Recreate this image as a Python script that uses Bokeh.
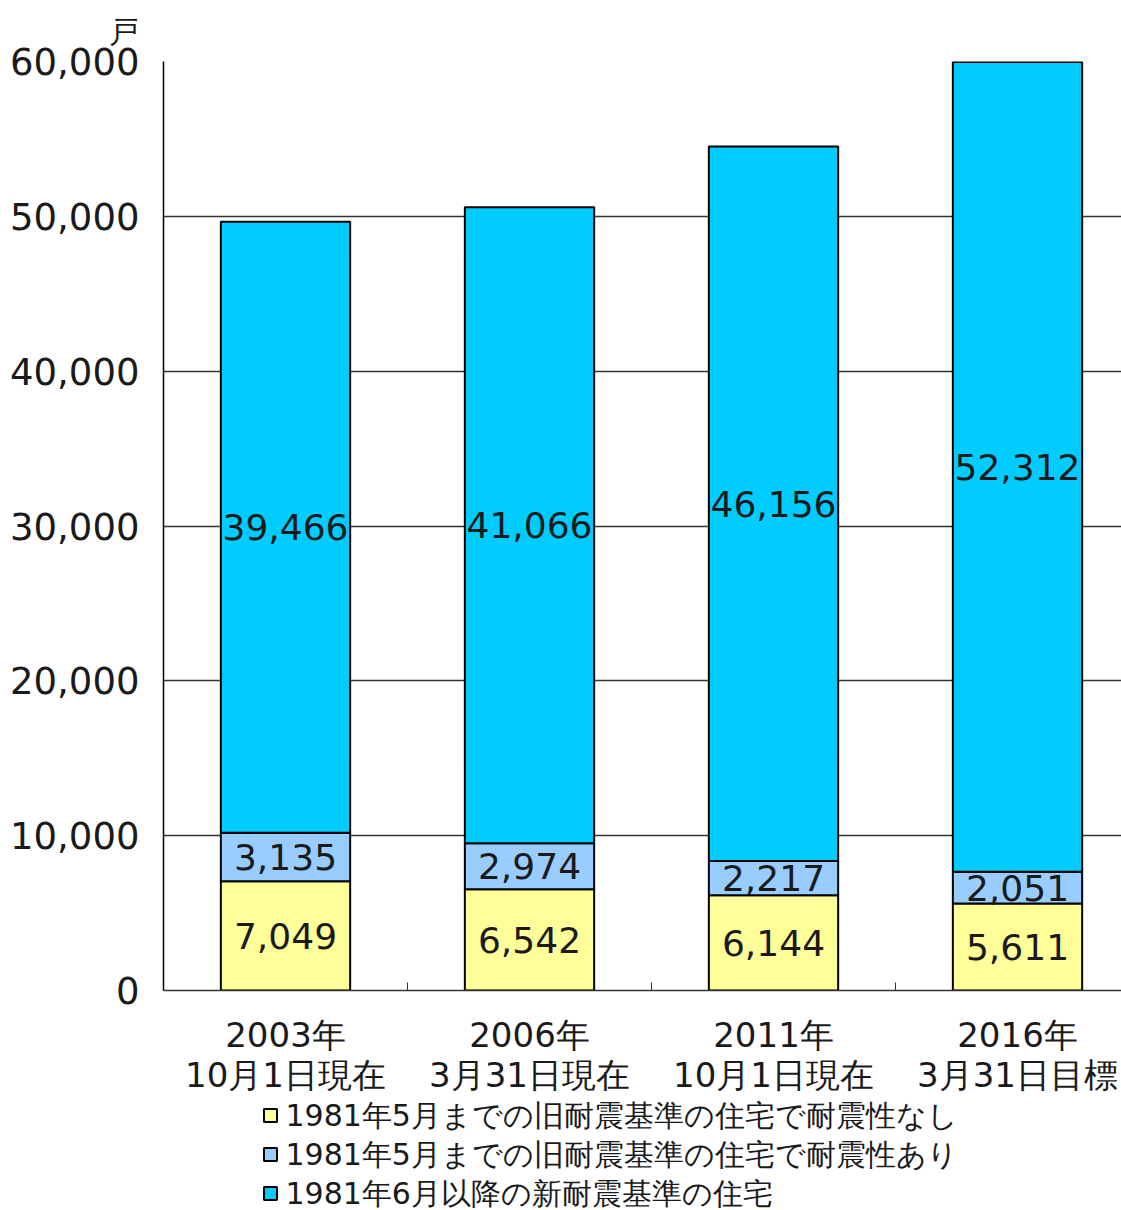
from bokeh.plotting import figure
from bokeh.layouts import column
from bokeh.models import Range1d, FixedTicker, NumeralTickFormatter, ColumnDataSource
from bokeh.core.properties import value
from bokeh.embed import file_html
from bokeh.resources import INLINE

# ---- data ----
years = ["2003年", "2006年", "2011年", "2016年"]
dates = ["10月1日現在", "3月31日現在", "10月1日現在", "3月31日目標"]
old_weak = [7049, 6542, 6144, 5611]     # 旧耐震基準・耐震性なし
old_ok = [3135, 2974, 2217, 2051]       # 旧耐震基準・耐震性あり
new_std = [39466, 41066, 46156, 52312]  # 新耐震基準
series_names = [
    "1981年5月までの旧耐震基準の住宅で耐震性なし",
    "1981年5月までの旧耐震基準の住宅で耐震性あり",
    "1981年6月以降の新耐震基準の住宅",
]
colors = ["#FFFF99", "#99CCFF", "#00CCFF"]
y_ticks = [0, 10000, 20000, 30000, 40000, 50000, 60000]
unit = "戸"

FONT = "DejaVu Sans"
W = 1121
LEFT = 163
PH = 1099

xs = [i + 0.5 for i in range(len(years))]
bounds = [i + 1 for i in range(len(years) - 1)]
src = ColumnDataSource(dict(x=xs, a=old_weak, b=old_ok, c=new_std))

p = figure(width=W, height=PH, output_backend="svg", toolbar_location=None,
           x_range=Range1d(0, (W - LEFT) / 244), y_range=Range1d(0, 60000),
           min_border_left=LEFT, min_border_right=0, min_border_top=61,
           min_border_bottom=PH - 990)
p.outline_line_color = None
p.background_fill_color = "white"
p.border_fill_color = "white"

# unit as title
p.title.text = unit
p.title.align = "left"
p.title.offset = -55
p.title.text_font = FONT
p.title.text_font_size = "30px"
p.title.text_font_style = "normal"
p.title.text_color = "#1a1a1a"
p.title.vertical_align = "top"
p.title.standoff = 22

rs = p.vbar_stack(["a", "b", "c"], x="x", width=0.53, source=src,
                  fill_color=colors, line_color="black", line_width=2)

# data labels
bottoms = [0] * len(xs)
for vals in (old_weak, old_ok, new_std):
    mids = [b + v / 2 for b, v in zip(bottoms, vals)]
    p.text(x=xs, y=mids, text=[f"{v:,}" for v in vals],
           text_align="center", text_baseline="middle",
           text_font=value(FONT), text_font_size="36px", text_color="#1a1a1a")
    bottoms = [b + v for b, v in zip(bottoms, vals)]

# grid
p.xgrid.visible = False
p.ygrid.ticker = FixedTicker(ticks=y_ticks)
p.ygrid.grid_line_color = "#333333"
p.ygrid.grid_line_width = 1.3

# x axis
xa = p.xaxis[0]
xa.ticker = FixedTicker(ticks=xs, minor_ticks=bounds)
xa.major_label_overrides = {x: f"{y}\n{d}" for x, y, d in zip(xs, years, dates)}
xa.major_tick_in = 0
xa.major_tick_out = 0
xa.minor_tick_in = 8
xa.minor_tick_out = 0
xa.minor_tick_line_color = "#333333"
xa.axis_line_color = "#333333"
xa.axis_line_width = 1.5
xa.major_label_text_font = FONT
xa.major_label_text_font_size = "34px"
xa.major_label_text_color = "#1a1a1a"
xa.major_label_standoff = 24
xa.major_label_text_line_height = 1.0

# y axis
ya = p.yaxis[0]
ya.ticker = FixedTicker(ticks=y_ticks)
ya.formatter = NumeralTickFormatter(format="0,0")
ya.major_tick_in = 0
ya.major_tick_out = 0
ya.minor_tick_line_color = None
ya.axis_line_color = "black"
ya.axis_line_width = 1.5
ya.major_label_text_font = FONT
ya.major_label_text_font_size = "37px"
ya.major_label_text_color = "#1a1a1a"
ya.major_label_standoff = 24

# ---- legend as a small companion figure (its frame aligns with the main frame) ----
LH = 1210 - PH
lg = figure(width=W, height=LH, output_backend="svg", toolbar_location=None,
            x_range=Range1d(LEFT, W), y_range=Range1d(LH, 0),
            min_border_left=LEFT, min_border_right=0, min_border_top=0,
            min_border_bottom=0)
lg.axis.visible = False
lg.grid.visible = False
lg.outline_line_color = None
lg.background_fill_color = "white"
lg.border_fill_color = "white"
row_y = [1115 - PH + 39 * i for i in range(len(series_names))]
lg.rect(x=[270] * len(series_names), y=row_y, width=13, height=13,
        fill_color=colors, line_color="black", line_width=2)
lg.text(x=[285] * len(series_names), y=row_y, text=series_names,
        text_align="left", text_baseline="middle",
        text_font=value(FONT), text_font_size="30px", text_color="#1a1a1a")

layout = column(p, lg, spacing=0)
open("out.html", "w").write(file_html(layout, INLINE))
